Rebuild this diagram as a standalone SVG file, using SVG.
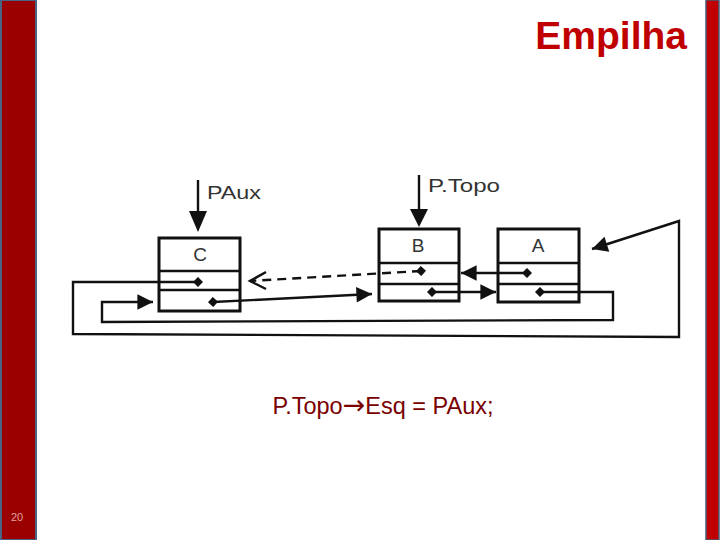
<svg xmlns="http://www.w3.org/2000/svg" width="720" height="540" viewBox="0 0 720 540">
<style>
.box{fill:#fff;stroke:#111;stroke-width:3}
.div{stroke:#111;stroke-width:2.5}
.ln{fill:none;stroke:#111;stroke-width:2.4}
.lbl{font-family:"Liberation Sans",Arial,sans-serif;font-size:19px;fill:#333}
</style>
<defs>
<marker id="ah" viewBox="0 0 10 10" refX="10" refY="5" markerWidth="7.5" markerHeight="6.5" markerUnits="strokeWidth" orient="auto"><path d="M0,0 L10,5 L0,10 z" fill="#111"/></marker>
<marker id="dot" viewBox="0 0 10 10" refX="5" refY="5" markerWidth="4.2" markerHeight="4.2" markerUnits="strokeWidth" orient="auto"><path d="M0,5 L5,0 L10,5 L5,10 z" fill="#111"/></marker>
</defs>
<rect x="0" y="0" width="720" height="540" fill="#fff"/>
<rect x="1" y="0" width="35" height="540" fill="#9a0000" stroke="#4a6385" stroke-width="2"/>
<rect x="706" y="0" width="13" height="540" fill="#c00000" stroke="#4a5a7a" stroke-width="1.5"/>
<text x="17" y="521" font-family="Liberation Sans,Arial,sans-serif" font-size="11" fill="#e0a0a0" text-anchor="middle">20</text>
<text x="687" y="49" font-family="Liberation Sans,Arial,sans-serif" font-size="39" font-weight="bold" fill="#c00000" text-anchor="end">Empilha</text>
<g id="nodeC">
<rect class="box" x="159" y="238" width="81" height="73"/>
<line class="div" x1="159" y1="271" x2="240" y2="271"/>
<line class="div" x1="159" y1="290" x2="240" y2="290"/>
<text class="lbl" x="200" y="261" text-anchor="middle">C</text>
</g>
<g id="nodeB">
<rect class="box" x="379" y="229" width="80" height="72"/>
<line class="div" x1="379" y1="263" x2="459" y2="263"/>
<line class="div" x1="379" y1="284" x2="459" y2="284"/>
<text class="lbl" x="418" y="252" text-anchor="middle">B</text>
</g>
<g id="nodeA">
<rect class="box" x="498" y="229" width="81" height="73"/>
<line class="div" x1="498" y1="263" x2="579" y2="263"/>
<line class="div" x1="498" y1="284" x2="579" y2="284"/>
<text class="lbl" x="538" y="252" text-anchor="middle">A</text>
</g>
<g id="connectors">
<path class="ln" d="M198,282 L73,282 L73,334 L679,337 L679,221 L592,249" marker-start="url(#dot)" marker-end="url(#ah)"/>
<path class="ln" d="M540,292 L613,292 L613,320 L102,322 L102,302 L153,302" marker-start="url(#dot)" marker-end="url(#ah)"/>
<path class="ln" d="M213,302 L372,294" marker-start="url(#dot)" marker-end="url(#ah)"/>
<path class="ln" d="M432,292 L496,292" marker-start="url(#dot)" marker-end="url(#ah)"/>
<path class="ln" d="M527,273 L461,273" marker-start="url(#dot)" marker-end="url(#ah)"/>
<path class="ln" d="M421,271 L250,281" stroke-dasharray="9,6" stroke-width="2.6" marker-start="url(#dot)"/>
<path class="ln" d="M266,272 L250,281 L266,289"/>
<path class="ln" d="M198,180 L198,212" stroke-width="2.5"/>
<path d="M189,211 L207,211 L198,232 z" fill="#111"/>
<path class="ln" d="M419,175 L419,210" stroke-width="2.5"/>
<path d="M410,209 L428,209 L419,227 z" fill="#111"/>
</g>
<text class="lbl" x="207" y="199" textLength="54" lengthAdjust="spacingAndGlyphs">PAux</text>
<text class="lbl" x="428" y="192" textLength="72" lengthAdjust="spacingAndGlyphs">P.Topo</text>
<text x="383" y="414" font-family="Liberation Sans,Arial,sans-serif" font-size="23.5" fill="#7a0000" text-anchor="middle">P.Topo<tspan font-family="DejaVu Sans,sans-serif" font-size="27">→</tspan>Esq = PAux;</text>
</svg>
